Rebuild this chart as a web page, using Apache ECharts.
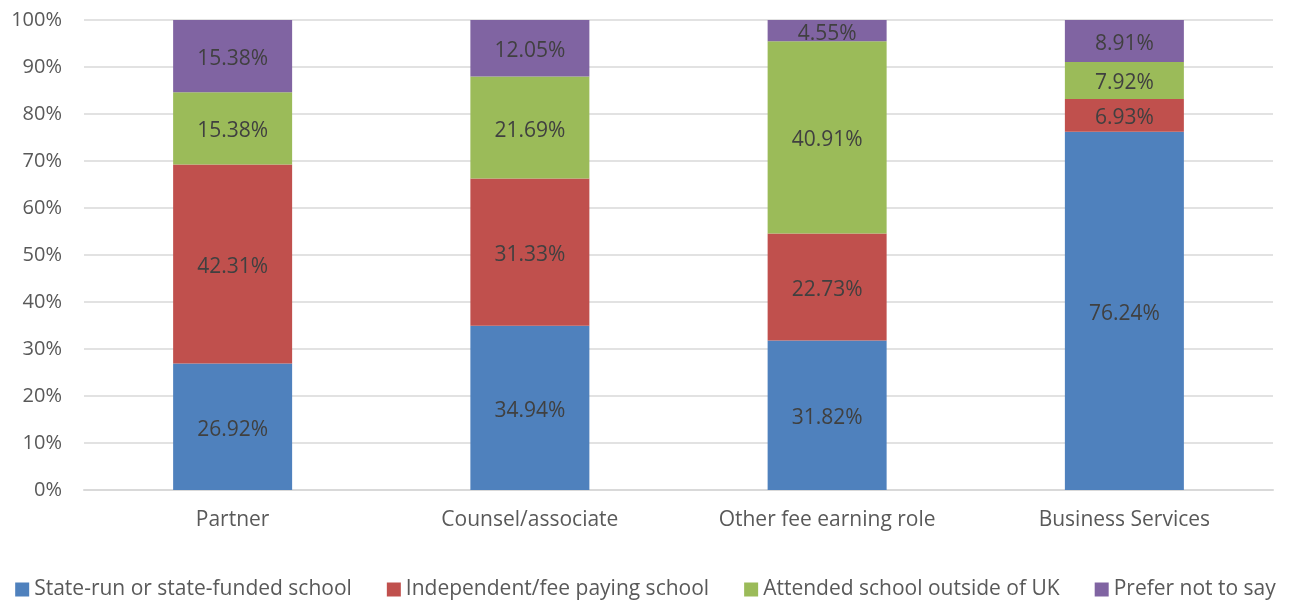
<!DOCTYPE html>
<html><head><meta charset="utf-8">
<script src="https://cdn.jsdelivr.net/npm/echarts@6/dist/echarts.min.js"></script>
<style>html,body{margin:0;padding:0;background:#fff}#c{width:1291px;height:605px}</style>
</head><body><div id="c"></div>
<script>
const categories = ['Partner', 'Counsel/associate', 'Other fee earning role', 'Business Services'];
const seriesNames = ['State-run or state-funded school', 'Independent/fee paying school', 'Attended school outside of UK', 'Prefer not to say'];
const stateRun = [26.92, 34.94, 31.82, 76.24];
const independent = [42.31, 31.33, 22.73, 6.93];
const outsideUK = [15.38, 21.69, 40.91, 7.92];
const preferNot = [15.38, 12.05, 4.55, 8.91];
const yTicks = [0, 10, 20, 30, 40, 50, 60, 70, 80, 90, 100];
const colors = ['#4F81BD', '#C0504D', '#9BBB59', '#8064A2'];
const FONT = 'Open Sans';
const values = [stateRun, independent, outsideUK, preferNot];
const chart = echarts.init(document.getElementById('c'));
chart.setOption({
  animation: false,
  textStyle: { fontFamily: FONT },
  grid: { left: 84, right: 18, top: 20, bottom: 115 },
  legend: {
    top: 574, left: 'center', itemWidth: 14, itemHeight: 14, itemGap: 35,
    icon: 'rect',
    textStyle: { fontFamily: FONT, fontSize: 21, color: '#595959' },
    data: seriesNames
  },
  xAxis: {
    type: 'category', data: categories,
    axisLine: { lineStyle: { color: '#d9d9d9', width: 2 } },
    axisTick: { show: false },
    axisLabel: { fontFamily: FONT, fontSize: 21, color: '#595959', margin: 20 }
  },
  yAxis: {
    type: 'value', min: 0, max: 100, interval: 10,
    axisLine: { show: false }, axisTick: { show: false },
    splitLine: { lineStyle: { color: '#d9d9d9', width: 1.5 } },
    axisLabel: { fontFamily: FONT, fontSize: 20, color: '#595959', margin: 22,
      formatter: v => yTicks.includes(v) ? v + '%' : '' }
  },
  series: values.map((vals, i) => ({
    name: seriesNames[i], type: 'bar', stack: 'total', barWidth: 119,
    itemStyle: { color: colors[i] },
    label: { show: true, position: 'inside', offset: [0, 3], fontFamily: FONT, fontSize: 21, color: '#404040',
      formatter: p => p.value.toFixed(2) + '%' },
    data: vals
  }))
});
</script></body></html>
